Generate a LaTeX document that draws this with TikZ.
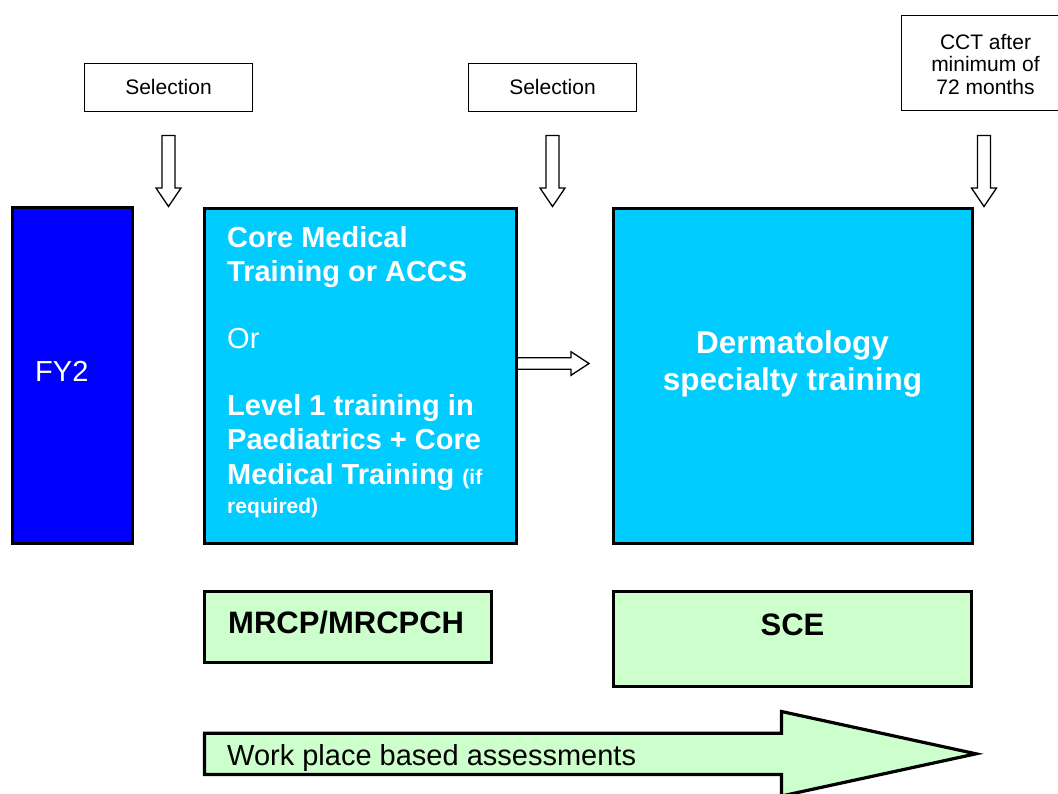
\documentclass[tikz,border=0pt]{standalone}
\usepackage{fontspec}
\setmainfont{Liberation Sans}
\definecolor{fyblue}{HTML}{0000FF}
\definecolor{cyanbox}{HTML}{00CCFF}
\definecolor{greenbox}{HTML}{CCFFCC}
\begin{document}
\begin{tikzpicture}[x=1pt,y=-1pt,
  bigbox/.style={draw=black, line width=3.2pt, rectangle, inner sep=0pt, outer sep=0pt, anchor=north west},
  thinbox/.style={draw=black, line width=1.3pt, fill=white, rectangle, inner sep=0pt, outer sep=0pt, anchor=north west},
  hollowarrow/.style={draw=black, line width=1.3pt, fill=white, line join=miter},
  bigarrow/.style={draw=black, line width=3.2pt, fill=greenbox, line join=miter},
  smalltxt/.style={inner sep=0pt, font=\fontsize{21}{24}\selectfont},
  bigtxt/.style={inner sep=0pt, font=\fontsize{29}{34}\selectfont},
  boldtxt/.style={inner sep=0pt, font=\fontsize{29}{34}\selectfont\bfseries},
  headtxt/.style={inner sep=0pt, font=\fontsize{31.5}{37}\selectfont\bfseries}
]
\useasboundingbox (0,0) rectangle (1058,793);
\clip (0,0) rectangle (1058,793);

% top boxes
\node[thinbox, minimum width=167.6pt, minimum height=47.6pt] (sel1) at (84.7,63.7) {};
\node[thinbox, minimum width=167.6pt, minimum height=47.6pt] (sel2) at (468.7,63.7) {};
\node[thinbox, minimum width=170pt, minimum height=94.6pt] (cct) at (901.7,15.7) {};
\node[smalltxt, anchor=base] (sel1t) at (168.5,94.3) {Selection};
\node[smalltxt, anchor=base] (sel2t) at (552.5,94.3) {Selection};
\node[smalltxt, anchor=base] (cct1) at (985.5,49) {CCT after};
\node[smalltxt, anchor=base] (cct2) at (985.5,71.5) {minimum of};
\node[smalltxt, anchor=base] (cct3) at (985.5,94) {72 months};

% down arrows
\foreach \cx/\nm in {168.5/da1, 552.5/da2, 984/da3}{
  \coordinate (\nm) at (\cx,135.5);
  \draw[hollowarrow] ([xshift=-6.5pt]\nm) -- ++(0,52.5) -- ++(-6,0) -- ++(12.5,18.5) -- ++(12.5,-18.5) -- ++(-6,0) -- ++(0,-52.5) -- cycle;
}

% main boxes
\node[bigbox, fill=fyblue, minimum width=120pt, minimum height=336.5pt] (fy2) at (12.6,207.3) {};
\node[bigbox, fill=cyanbox, minimum width=312pt, minimum height=335.5pt] (core) at (204.6,208.3) {};
\node[bigbox, fill=cyanbox, minimum width=359pt, minimum height=335.5pt] (derm) at (613.3,208.3) {};

% right arrow between core and derm
\coordinate (ra) at (516.5,363.5);
\draw[hollowarrow] ([yshift=5.8pt]ra) -- (571,357.7) -- (571,351.7) -- (589,363.5) -- (571,375.3) -- (571,369.3) -- ([yshift=-5.8pt]ra) -- cycle;
\draw[black, line width=3.2pt] (core.north east) -- (core.south east);

% texts in main boxes
\node[bigtxt, text=white, anchor=base west] (fy2t) at (35,381.7) {FY2};
\node[boldtxt, text=white, anchor=base west] (c1) at (227,247) {Core Medical};
\node[boldtxt, text=white, anchor=base west] (c2) at (227,281) {Training or ACCS};
\node[bigtxt, text=white, anchor=base west] (c3) at (227,348) {Or};
\node[boldtxt, text=white, anchor=base west] (c4) at (227,415) {Level 1 training in};
\node[boldtxt, text=white, anchor=base west] (c5) at (227,449.5) {Paediatrics + Core};
\node[boldtxt, text=white, anchor=base west] (c6) at (227,484) {Medical Training {\fontsize{21}{24}\selectfont (if}};
\node[boldtxt, text=white, anchor=base west, font=\fontsize{21}{24}\selectfont\bfseries] (c7) at (227,513) {required)};
\node[headtxt, text=white, anchor=base] (d1) at (792.5,353) {Dermatology};
\node[headtxt, text=white, anchor=base] (d2) at (792.5,390) {specialty training};

% exam boxes
\node[bigbox, fill=greenbox, minimum width=287pt, minimum height=70.8pt] (mrcp) at (204.3,591.6) {};
\node[bigbox, fill=greenbox, minimum width=358.4pt, minimum height=94.8pt] (sce) at (613.3,591.6) {};
\node[headtxt, font=\fontsize{31}{36}\selectfont\bfseries, anchor=base west] (mrcpt) at (228,633) {MRCP/MRCPCH};
\node[headtxt, font=\fontsize{31}{36}\selectfont\bfseries, anchor=base] (scet) at (792.5,635) {SCE};

% bottom big arrow
\coordinate (ba) at (204.5,753.8);
\draw[bigarrow] ([yshift=20.6pt]ba) -- (781.5,733.2) -- (781.5,711.5) -- (976,753.8) -- (781.5,796) -- (781.5,774.4) -- ([yshift=-20.6pt]ba) -- cycle;
\node[bigtxt, anchor=base west] (wpba) at (227,765) {Work place based assessments};
\end{tikzpicture}
\end{document}
